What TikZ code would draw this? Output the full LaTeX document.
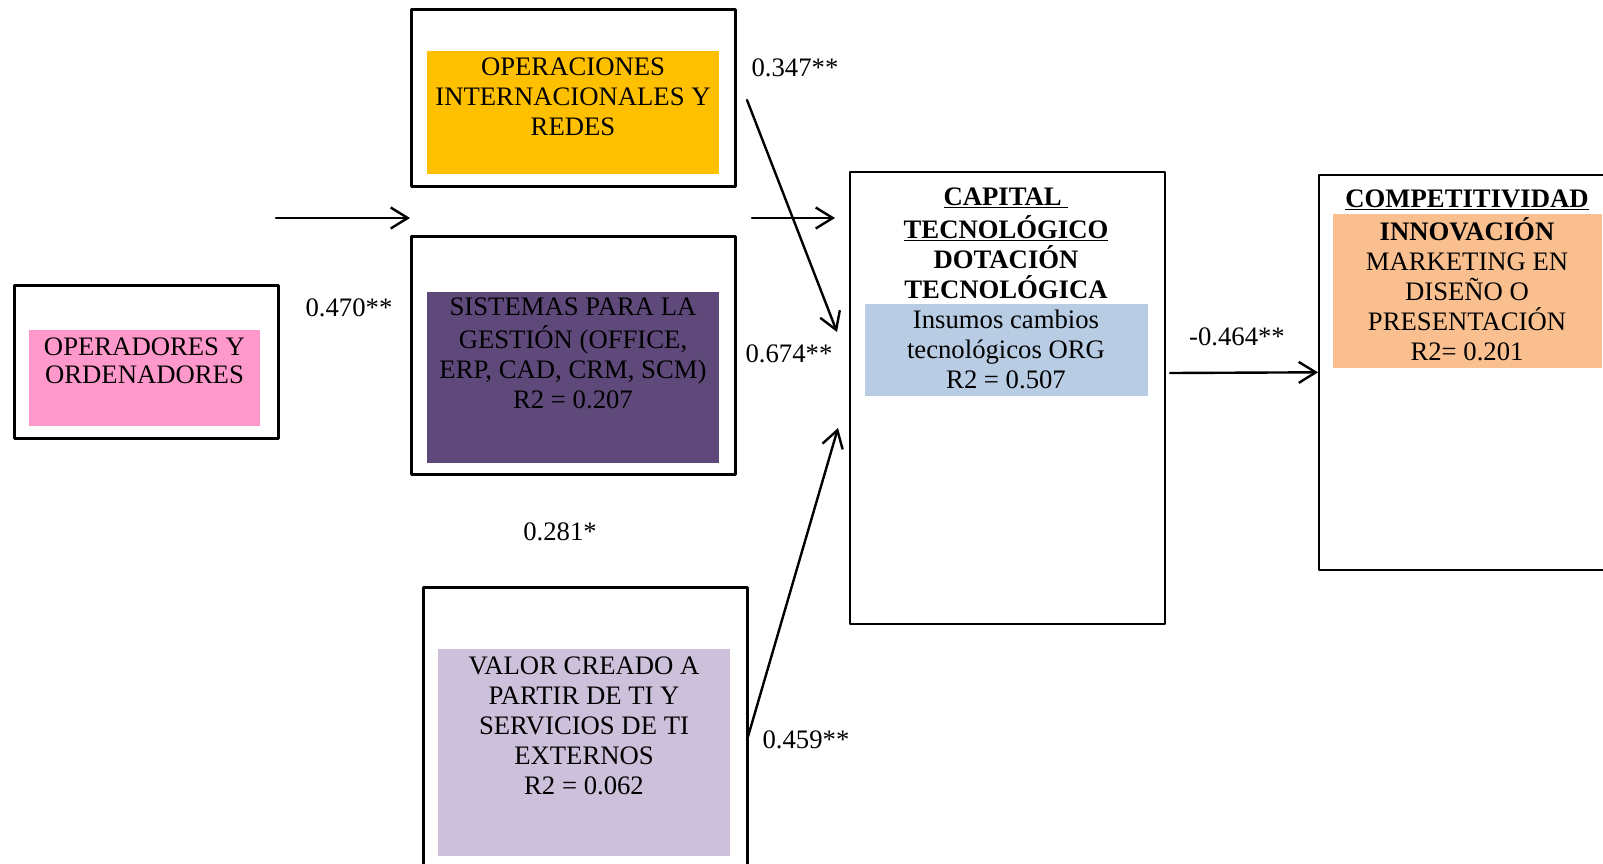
\documentclass[tikz,border=0pt]{standalone}
\usepackage{fontspec}
\setmainfont{Liberation Serif}
\usetikzlibrary{arrows.meta}
\definecolor{rosa}{HTML}{FF99CC}
\definecolor{amarillo}{HTML}{FFC000}
\definecolor{morado}{HTML}{5F497A}
\definecolor{lila}{HTML}{CCC0DA}
\definecolor{celeste}{HTML}{B8CCE4}
\definecolor{naranja}{HTML}{FABF8F}
\begin{document}
\begin{tikzpicture}[x=1pt, y=-1pt, line join=round, line cap=round,
		>={Straight Barb[length=17pt,width=21pt]},
		font=\fontsize{26.7}{30}\selectfont,
		marco/.style={draw, line width=2.6pt, anchor=north west, inner sep=0pt},
		fondo/.style={fill=#1, anchor=north west, inner sep=0pt},
		texto/.style={anchor=north, align=center, inner sep=0pt},
		coef/.style={inner sep=0pt},
		flecha/.style={->, line width=2.4pt}]
	\clip (0,0) rectangle (1603,863);
	% variables de TI
	\node[marco, minimum width=264pt, minimum height=153pt] (mOrd) at (13,284) {};
	\node[fondo=rosa, minimum width=231pt, minimum height=96pt] (fOrd) at (29,330) {};
	\node[texto, font=\fontsize{26.7}{28.5}\selectfont] (tOrd) at (144.5,335) {\strut OPERADORES Y\\ORDENADORES};
	\node[marco, minimum width=324pt, minimum height=177pt] (mOpe) at (410,8) {};
	\node[fondo=amarillo, minimum width=292pt, minimum height=123pt] (fOpe) at (427,51) {};
	\node[texto] (tOpe) at (573,54) {\strut OPERACIONES\\INTERNACIONALES Y\\REDES};
	\node[marco, minimum width=324pt, minimum height=238pt] (mSis) at (410,235) {};
	\node[fondo=morado, minimum width=292pt, minimum height=171pt] (fSis) at (427,292) {};
	\node[texto] (tSis) at (573,294) {\strut SISTEMAS PARA LA\\GESTIÓN (OFFICE,\\ERP, CAD, CRM, SCM)\\R2 = 0.207};
	\node[marco, minimum width=324pt, minimum height=320pt] (mVal) at (422,586) {};
	\node[fondo=lila, minimum width=292pt, minimum height=207pt] (fVal) at (438,649) {};
	\node[texto] (tVal) at (584,653) {\strut VALOR CREADO A\\PARTIR DE TI Y\\SERVICIOS DE TI\\EXTERNOS\\R2 = 0.062};
	% capital tecnologico y competitividad
	\node[marco, line width=1.6pt, minimum width=315pt, minimum height=452pt] (mCap) at (849,171) {};
	\node[fondo=celeste, minimum width=283pt, minimum height=92pt] (fCap) at (865,304) {};
	\node[texto] (tCap) at (1006,184) {\strut\textbf{\underline{CAPITAL\ }}\\\textbf{\underline{TECNOLÓGICO}}\\\textbf{DOTACIÓN}\\\textbf{TECNOLÓGICA}\\Insumos cambios\\tecnológicos ORG\\R2 = 0.507};
	\node[marco, line width=1.6pt, minimum width=300pt, minimum height=395pt] (mCom) at (1318,174) {};
	\node[fondo=naranja, minimum width=269pt, minimum height=154pt] (fCom) at (1333,214) {};
	\node[texto] (tCom) at (1467,186) {\strut\textbf{\underline{COMPETITIVIDAD}}\\\textbf{INNOVACIÓN}\\MARKETING EN\\DISEÑO O\\PRESENTACIÓN\\R2= 0.201};
	% coeficientes
	\node[coef] (k1) at (349,308) {0.470**};
	\node[coef] (k2) at (795,68) {0.347**};
	\node[coef] (k3) at (789,354) {0.674**};
	\node[coef] (k4) at (560,532) {0.281*};
	\node[coef] (k5) at (806,740) {0.459**};
	\node[coef] (k6) at (1237,337) {-0.464**};
	% flechas
	\coordinate (a1) at (276,218); \coordinate (a2) at (410,218);
	\coordinate (b1) at (752,218); \coordinate (b2) at (835,218);
	\coordinate (c1) at (747,100); \coordinate (c2) at (837,332);
	\coordinate (d1) at (747,740); \coordinate (d2) at (838,428);
	\coordinate (e1) at (1170,373);
	\draw[flecha] (a1)--(a2);
	\draw[flecha] (b1)--(b2);
	\draw[flecha] (c1)--(c2);
	\draw[flecha] (d1)--(d2);
	\draw[flecha] (e1)--(mCom.west);
\end{tikzpicture}
\end{document}
